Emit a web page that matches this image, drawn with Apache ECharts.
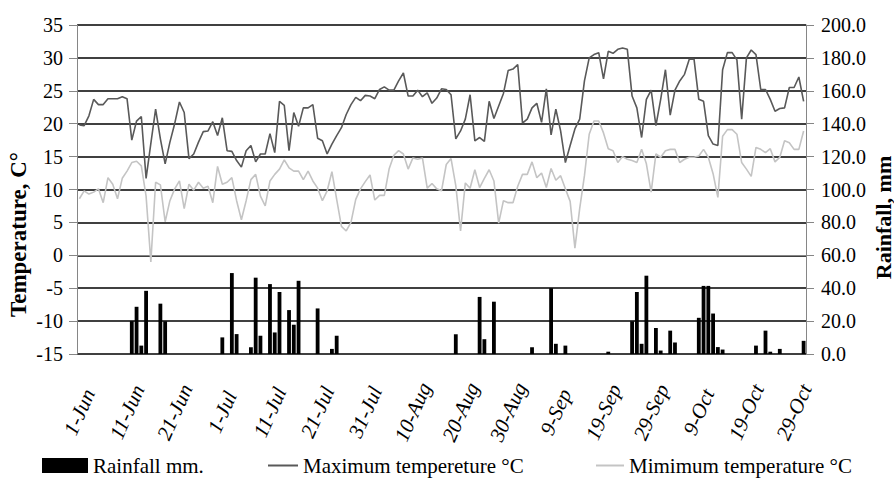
<!DOCTYPE html>
<html lang="en">
<head>
    <meta charset="utf-8">
    <title>Temperature and rainfall</title>
    <script src="https://cdn.jsdelivr.net/npm/echarts@6/dist/echarts.min.js"></script>
    <style type="text/css">
        html, body { margin: 0; padding: 0; background: #fff; }
        #main { width: 894px; height: 479px; }
    </style>
</head>
<body>
    <div id="main"></div>
    <script type="text/javascript">
        // daily categories, 1-Jun .. 31-Oct
        var monthNames = ['Jun', 'Jul', 'Aug', 'Sep', 'Oct'];
        var monthDays = [30, 31, 31, 30, 31];
        var days = [];
        for (var m = 0; m < monthNames.length; m++) {
            for (var d = 1; d <= monthDays[m]; d++) {
                days.push(d + '-' + monthNames[m]);
            }
        }

        // maximum temperature, °C (one value per day)
        var tMax = [
            19.8, 19.7, 21.2, 23.7, 22.9, 22.9, 23.8, 23.8, 23.8, 24.1,
            23.8, 17.5, 20.4, 21.1, 11.7, 17.0, 22.2, 17.7, 13.9, 17.2,
            20.0, 23.3, 21.7, 14.7, 15.4, 17.2, 18.8, 18.9, 20.3, 18.2,
            20.9, 15.9, 15.8, 14.4, 13.4, 15.9, 16.7, 14.2, 15.4, 15.4,
            18.5, 15.6, 23.4, 22.8, 15.9, 21.7, 19.6, 22.4, 22.4, 22.9,
            17.8, 17.4, 15.4, 16.9, 18.2, 19.4, 21.4, 22.9, 24.0, 23.5,
            24.3, 24.2, 23.8, 25.2, 25.6, 25.1, 25.1, 26.5, 27.7, 24.2,
            24.2, 25.1, 24.1, 24.7, 23.1, 23.9, 25.3, 25.2, 24.4, 17.7,
            18.9, 20.7, 24.4, 17.4, 17.9, 17.3, 23.4, 20.8, 22.7, 24.6,
            28.1, 28.3, 29.0, 20.1, 20.7, 22.4, 23.1, 20.2, 25.3, 18.3,
            22.2, 18.9, 14.1, 16.7, 19.2, 20.7, 26.5, 30.0, 30.5, 30.8,
            26.8, 31.0, 30.7, 31.3, 31.5, 31.3, 24.2, 22.4, 17.9, 23.7,
            25.1, 19.7, 23.7, 28.2, 21.3, 25.1, 26.5, 27.5, 29.8, 29.8,
            23.7, 23.4, 18.2, 16.9, 16.7, 28.2, 30.8, 30.8, 29.7, 20.7,
            30.0, 31.2, 30.5, 25.2, 25.2, 23.7, 21.9, 22.3, 22.4, 25.5,
            25.5, 27.1, 23.4
        ];

        // minimum temperature, °C
        var tMin = [
            8.6, 9.8, 9.3, 9.6, 10.1, 8.0, 11.8, 10.8, 8.6, 11.7,
            12.8, 14.1, 14.3, 13.6, 9.0, -1.0, 11.1, 10.7, 5.1, 8.3,
            10.1, 11.3, 7.1, 10.8, 9.9, 11.1, 10.2, 10.5, 8.0, 13.5,
            10.8, 11.1, 11.8, 8.3, 5.4, 8.3, 11.5, 12.3, 9.0, 7.5,
            11.3, 12.3, 13.1, 14.5, 13.3, 12.8, 12.8, 11.5, 12.8, 11.3,
            10.2, 8.3, 9.8, 12.7, 8.5, 4.4, 3.7, 5.0, 8.5, 10.1,
            11.2, 12.2, 8.4, 9.1, 9.1, 13.1, 15.2, 15.9, 15.4, 13.1,
            14.8, 14.6, 14.8, 10.2, 10.9, 10.1, 9.8, 13.8, 14.7, 10.6,
            3.7, 11.0, 10.2, 13.0, 10.3, 11.7, 13.0, 11.3, 4.9, 8.3,
            8.0, 8.0, 10.5, 12.3, 12.3, 14.2, 11.8, 12.5, 10.3, 13.2,
            11.4, 12.1, 10.1, 8.2, 1.1, 7.1, 12.1, 18.4, 20.4, 20.4,
            18.6, 16.2, 15.9, 14.1, 15.0, 14.6, 14.4, 14.1, 16.1, 13.9,
            9.6, 15.4, 14.9, 15.9, 16.1, 16.1, 14.1, 14.6, 14.9, 14.9,
            15.1, 16.1, 14.9, 12.4, 8.8, 18.1, 19.1, 19.1, 18.4, 14.1,
            13.1, 12.0, 16.4, 16.1, 15.6, 16.2, 14.2, 14.9, 17.4, 17.1,
            16.1, 16.1, 18.9
        ];

        // rainfall, mm: day index (0 = 1-Jun) and amount
        var rainDay = [11, 12, 13, 14, 17, 18, 30, 32, 33, 36, 37, 38, 40, 41, 42, 44, 45, 46, 50, 53, 54,
            79, 84, 85, 87, 95, 99, 100, 102, 111, 116, 117, 118, 119, 121, 122, 124, 125,
            130, 131, 132, 133, 134, 135, 142, 144, 145, 147, 152];
        var rainMm = [20.0, 28.7, 5.1, 38.4, 30.6, 19.9, 10.1, 49.2, 12.1, 4.1, 46.4, 11.1, 42.5, 13.1, 37.7, 26.7, 17.8, 44.5, 27.7, 3.1, 11.1,
            12.0, 34.7, 9.0, 31.8, 4.1, 40.0, 6.2, 5.1, 1.4, 19.9, 37.7, 6.2, 47.6, 15.8, 2.1, 14.2, 7.0,
            22.0, 41.4, 41.4, 24.6, 4.2, 2.7, 5.1, 14.2, 1.4, 3.1, 8.0];

        var rain = days.map(function () { return 0; });
        for (var i = 0; i < rainDay.length; i++) {
            rain[rainDay[i]] = rainMm[i];
        }

        var serif = "'Liberation Serif', 'DejaVu Serif', serif";
        var axisGrey = '#868686';
        var legendText = { fontFamily: serif, fontSize: 21, color: '#000' };

        var chartDom = document.getElementById('main');
        var myChart = echarts.init(chartDom, null, { renderer: 'svg' });

        var option = {
            animation: false,
            backgroundColor: '#fff',
            textStyle: { fontFamily: serif, color: '#000' },
            grid: { left: 77, right: 88, top: 25, bottom: 125, containLabel: false, outerBoundsMode: 'none' },
            legend: [
                {
                    data: ['Rainfall mm.'], left: 42, top: 455, padding: 0,
                    itemWidth: 46, itemHeight: 15, itemGap: 0, icon: 'rect',
                    textStyle: legendText
                },
                {
                    data: ['Maximum tempereture °C'], left: 268, top: 455, padding: 0,
                    itemWidth: 30, itemHeight: 2, icon: 'rect',
                    textStyle: legendText
                },
                {
                    data: ['Mimimum temperature °C'], left: 596, top: 455, padding: 0,
                    itemWidth: 28, itemHeight: 2, icon: 'rect',
                    textStyle: legendText
                }
            ],
            xAxis: {
                type: 'category',
                data: days,
                boundaryGap: true,
                axisLine: { lineStyle: { color: axisGrey, width: 1 } },
                axisTick: { interval: 9, length: 6, lineStyle: { color: axisGrey } },
                axisLabel: {
                    interval: 9, rotate: 66, margin: 58,
                    align: 'center', verticalAlign: 'middle',
                    fontFamily: serif, fontStyle: 'italic', fontSize: 21, color: '#000'
                },
                splitLine: { show: false }
            },
            yAxis: [
                {
                    type: 'value', min: -15, max: 35, interval: 5,
                    name: 'Temperature, C°', nameLocation: 'middle', nameGap: 47, nameMoveOverlap: false,
                    nameTextStyle: { fontFamily: serif, fontWeight: 'bold', fontSize: 23, color: '#000', padding: [0, 90, 0, 0] },
                    axisLine: { show: true, lineStyle: { color: axisGrey } },
                    axisTick: { show: true, length: 8, lineStyle: { color: axisGrey } },
                    axisLabel: { margin: 14, fontFamily: serif, fontSize: 20, color: '#000' },
                    splitLine: { lineStyle: { color: '#000', width: 1.5 } }
                },
                {
                    type: 'value', min: 0, max: 200, interval: 20,
                    name: 'Rainfall, mm', nameLocation: 'middle', nameGap: 66, nameRotate: 90, nameMoveOverlap: false,
                    nameTextStyle: { fontFamily: serif, fontWeight: 'bold', fontSize: 22, color: '#000', padding: [0, 56, 0, 0] },
                    axisLine: { show: true, lineStyle: { color: axisGrey } },
                    axisTick: { show: true, length: 8, lineStyle: { color: axisGrey } },
                    axisLabel: {
                        margin: 15, fontFamily: serif, fontSize: 20, color: '#000',
                        formatter: function (v) { return v.toFixed(1); }
                    },
                    splitLine: { show: false }
                }
            ],
            series: [
                {
                    name: 'Rainfall mm.',
                    type: 'bar',
                    yAxisIndex: 1,
                    data: rain,
                    barCategoryGap: '20%',
                    itemStyle: { color: '#000' }
                },
                {
                    name: 'Maximum tempereture °C',
                    type: 'line',
                    yAxisIndex: 0,
                    data: tMax,
                    symbol: 'none',
                    color: '#595959',
                    lineStyle: { color: '#595959', width: 1.6 }
                },
                {
                    name: 'Mimimum temperature °C',
                    type: 'line',
                    yAxisIndex: 0,
                    data: tMin,
                    symbol: 'none',
                    color: '#c4c4c4',
                    lineStyle: { color: '#c4c4c4', width: 1.6 }
                }
            ]
        };

        option && myChart.setOption(option);
    </script>
</body>
</html>
